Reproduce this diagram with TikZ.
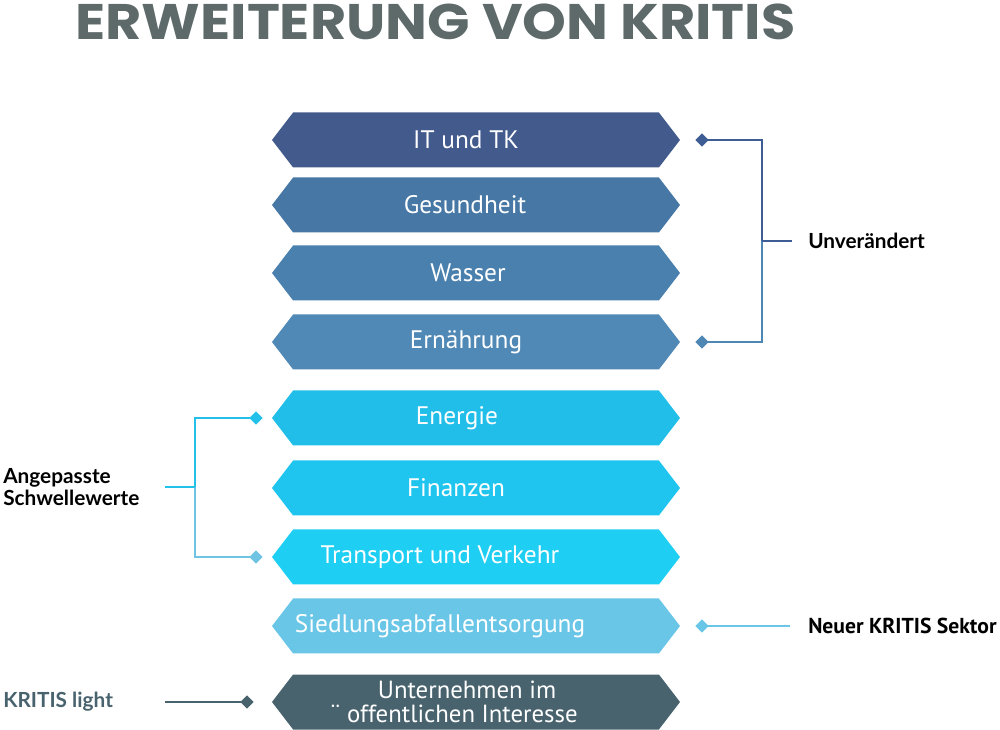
\documentclass[tikz,border=0pt]{standalone}
\usepackage{fontspec}
\setmainfont{PT Sans}
\newfontfamily\titlefont{Poppins}
\newfontfamily\labfont{Lato}
\usetikzlibrary{shapes.symbols,shapes.geometric}
\definecolor{cIT}{HTML}{435A8D}
\definecolor{cGe}{HTML}{4677A5}
\definecolor{cWa}{HTML}{4A80AE}
\definecolor{cEr}{HTML}{5189B6}
\definecolor{cEn}{HTML}{21BEE9}
\definecolor{cFi}{HTML}{1FC5EE}
\definecolor{cTr}{HTML}{1ECEF3}
\definecolor{cSi}{HTML}{6AC6E7}
\definecolor{cUn}{HTML}{48636E}
\definecolor{cTitle}{HTML}{5E6A6A}
\definecolor{cBrA}{HTML}{3F5D95}
\definecolor{cBrB}{HTML}{4E86B4}
\definecolor{cLbA}{HTML}{23C0EA}
\definecolor{cLbB}{HTML}{6FC4E4}
\newcommand\txtoff[1]{\hspace*{#1pt}}
\tikzset{
  hexa/.style={shape=signal, signal to=west and east, signal pointer angle=105,
    minimum width=306pt, minimum height=41.25pt, inner sep=0pt, draw=none,
    text=white, font=\fontsize{19}{20}\selectfont, align=center},
  dia/.style={shape=diamond, minimum width=10pt, minimum height=10pt, inner sep=0pt, draw=none},
  conn/.style={line width=1.5pt},
  lab/.style={font=\labfont\bfseries\fontsize{15.6}{16.5}\selectfont, inner sep=0pt, anchor=west, align=left},
}
\begin{document}
\begin{tikzpicture}[x=0.75pt,y=-0.75pt]
\useasboundingbox (0,0) rectangle (1000,730);
% title
\node[anchor=base west, inner sep=0pt, text=cTitle, font=\titlefont\bfseries\fontsize{37.5}{40}\selectfont] (title) at (75,40) {\scalebox{1.115}[1]{ERWEITERUNG VON KRITIS}};
% sector hexagons
\node[hexa, fill=cIT] (it) at (476,140) {IT und TK\txtoff{15}};
\node[hexa, fill=cGe] (ge) at (476,205) {Gesundheit\txtoff{16.5}};
\node[hexa, fill=cWa] (wa) at (476,273) {Wasser\txtoff{12}};
\node[hexa, fill=cEr] (er) at (476,342) {Ernährung\txtoff{15}};
\node[hexa, fill=cEn] (en) at (476,418) {Energie\txtoff{28.5}};
\node[hexa, fill=cFi] (fi) at (476,488) {Finanzen\txtoff{30}};
\node[hexa, fill=cTr] (tr) at (476,557) {Transport und Verkehr\txtoff{54}};
\node[hexa, fill=cSi] (si) at (476,626) {Siedlungsabfallentsorgung\txtoff{54}};
\node[hexa, fill=cUn, font=\fontsize{18.6}{18}\selectfont] (un) at (476,702) {Unternehmen im\txtoff{13.5}\\¨ offentlichen Interesse\txtoff{33}};
% right bracket: Unverändert
\node[dia, fill=cBrA] (d1) at (702,140) {};
\node[dia, fill=cBrB] (d4) at (702,342) {};
\coordinate (rb) at (762,241);
\coordinate (rbe) at (792,241);
\node[lab, text=black] (unv) at (808,241) {Unverändert};
\draw[conn, cBrA] (d1.center) -| (rb);
\draw[conn, cBrB] (rb) |- (d4.center);
\draw[conn, cBrA] (rb) -- (rbe);
% left bracket: Angepasste Schwellewerte
\node[dia, fill=cLbA] (d5) at (256,418) {};
\node[dia, fill=cLbB] (d7) at (256,557) {};
\coordinate (lb) at (195,487);
\coordinate (lbe) at (165,487);
\node[lab, text=black] (ang) at (3,487) {Angepasste\\Schwellewerte};
\draw[conn, cLbA] (d5.center) -| (lb);
\draw[conn, cLbB] (lb) |- (d7.center);
\draw[conn, cLbA] (lb) -- (lbe);
% Neuer KRITIS Sektor
\node[dia, fill=cSi] (d8) at (702,626) {};
\coordinate (ne) at (790,626);
\node[inner sep=0pt, anchor=west, font=\bfseries\fontsize{16.2}{17}\selectfont] (neu) at (808,626) {Neuer KRITIS Sektor};
\draw[conn, cSi] (d8.center) -- (ne);
% KRITIS light
\node[dia, fill=cUn] (d9) at (247,702) {};
\coordinate (kl) at (165,702);
\node[lab, text=cUn] (kli) at (3,702) {KRITIS light};
\draw[conn, cUn] (kl) -- (d9.center);
\end{tikzpicture}
\end{document}
